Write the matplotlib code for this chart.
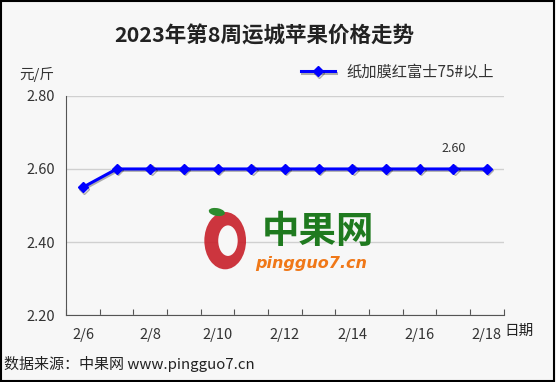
import numpy as np
import matplotlib.pyplot as plt
import matplotlib.patheffects as pe
from matplotlib.patches import Ellipse, Rectangle

plt.rcParams['font.family'] = ['Noto Sans CJK SC', 'DejaVu Sans']

dates = ['2/6', '2/7', '2/8', '2/9', '2/10', '2/11', '2/12',
         '2/13', '2/14', '2/15', '2/16', '2/17', '2/18']
prices = [2.55, 2.60, 2.60, 2.60, 2.60, 2.60, 2.60,
          2.60, 2.60, 2.60, 2.60, 2.60, 2.60]
series_name = '纸加膜红富士75#以上'
yticks = [2.20, 2.40, 2.60, 2.80]

bg = '#f7f7f7'
fig = plt.figure(figsize=(5.56, 3.82), dpi=100, facecolor=bg)
fig.patches.append(Rectangle((0.002, 0.003), 0.995, 0.994, transform=fig.transFigure,
                             fill=False, edgecolor='black', linewidth=1.5))
ax = fig.add_axes([0.119, 0.175, 0.787, 0.574], facecolor=bg)

x = np.arange(len(dates))
ax.plot(x, prices, color='#0000ff', lw=2.2, marker='D', ms=5, zorder=3,
        path_effects=[pe.SimpleLineShadow(offset=(1, -1), alpha=0.3), pe.Normal()])
ax.annotate(f'{prices[-2]:.2f}', (x[-2], prices[-2]), xytext=(0, 12),
            textcoords='offset points', ha='center', fontsize=9, color='#333333')

ax.set_xlim(-0.5, len(dates) - 0.5)
ax.set_ylim(2.20, 2.80)
ax.set_yticks(yticks)
ax.set_yticklabels([f'{v:.2f}' for v in yticks], fontsize=10.5, color='#333333')
ax.tick_params(axis='y', length=0, pad=8)
ax.grid(axis='y', color='#d0d0d0', lw=1)
ax.set_axisbelow(True)

ax.set_xticks(np.arange(-0.5, len(dates), 1))
ax.set_xticklabels([])
ax.set_xticks(x[::2], minor=True)
ax.set_xticklabels(dates[::2], minor=True, fontsize=10.5, color='#333333')
ax.tick_params(axis='x', which='major', direction='in', length=4, color='#555555')
ax.tick_params(axis='x', which='minor', length=0, pad=9)

for s in ['top', 'right']:
    ax.spines[s].set_visible(False)
for s in ['left', 'bottom']:
    ax.spines[s].set_color('#555555')

fig.text(0.475, 0.905, '2023年第8周运城苹果价格走势', ha='center', va='center',
         fontsize=15.5, fontweight='bold', color='#222222')
fig.text(0.035, 0.805, '元/斤', fontsize=10.5, color='#333333', va='center')
fig.text(0.908, 0.135, '日期', fontsize=10.5, color='#222222', va='center')
fig.text(0.008, 0.048, '数据来源：中果网 www.pingguo7.cn', fontsize=10.8,
         color='#222222', va='center')

# legend
ax.legend([ax.lines[0]], [series_name], loc='upper right', bbox_to_anchor=(1.01, 1.21),
          frameon=False, fontsize=11, handlelength=2.2, labelcolor='#333333')

# watermark
fig.patches.append(Ellipse((0.405, 0.37), 0.075, 0.15, transform=fig.transFigure,
                           facecolor='#c8202a', edgecolor='none', alpha=0.9))
fig.patches.append(Ellipse((0.41, 0.37), 0.035, 0.08, transform=fig.transFigure,
                           facecolor=bg, edgecolor='none'))
fig.patches.append(Ellipse((0.39, 0.445), 0.03, 0.02, transform=fig.transFigure,
                           facecolor='#2e8b2e', edgecolor='none', angle=-20))
fig.text(0.572, 0.395, '中果网', ha='center', va='center', fontsize=27,
         fontweight='bold', color='#1f7a1f')
fig.text(0.56, 0.31, 'pingguo7.cn', ha='center', va='center', fontsize=11.5,
         fontweight='bold', style='italic', color='#f07818', family='DejaVu Sans')

fig.savefig('out.png', dpi=100, facecolor=bg)
